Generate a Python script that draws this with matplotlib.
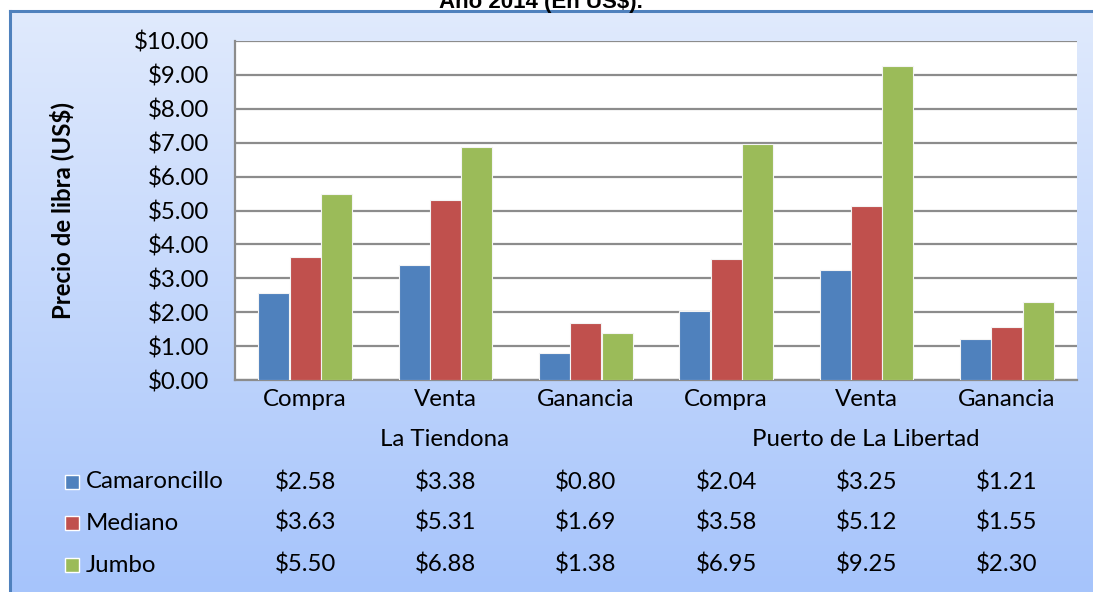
import numpy as np
import matplotlib.pyplot as plt
from matplotlib.transforms import blended_transform_factory
from matplotlib.patches import Rectangle

# Precio por libra de camarón, año 2014
categorias = ["Compra", "Venta", "Ganancia", "Compra", "Venta", "Ganancia"]
mercados = ["La Tiendona", "Puerto de La Libertad"]
series = ["Camaroncillo", "Mediano", "Jumbo"]
camaroncillo = [2.58, 3.38, 0.80, 2.04, 3.25, 1.21]
mediano = [3.63, 5.31, 1.69, 3.58, 5.12, 1.55]
jumbo = [5.50, 6.88, 1.38, 6.95, 9.25, 2.30]
valores = [camaroncillo, mediano, jumbo]
colores = ["#4f81bd", "#c0504d", "#9bbb59"]

plt.rcParams['font.family'] = ['Lato', 'DejaVu Sans']
FS = 17.3

W, H = 1093, 592
fig = plt.figure(figsize=(W / 100, H / 100), dpi=100)
fig.patch.set_facecolor("white")

# fondo degradado del área del gráfico
bg = fig.add_axes([10 / W, 0, 1 - 10 / W, 1 - 11 / H], zorder=0)
grad = np.linspace(0, 1, 256).reshape(-1, 1)
c_top = np.array([0xe0, 0xea, 0xfd]) / 255
c_bot = np.array([0xa6, 0xc4, 0xfb]) / 255
img = c_top + (c_bot - c_top) * grad[:, :, None]
bg.imshow(img, aspect="auto", extent=[0, 1, 0, 1], origin="upper")
bg.set_xlim(0, 1)
bg.set_ylim(0, 1)
bg.axis("off")
fig.add_artist(plt.Line2D([10 / W, 10 / W], [0, 1 - 11 / H], color="#4f81bd", lw=2.2, zorder=1))
fig.add_artist(plt.Line2D([10 / W, 1], [1 - 11 / H, 1 - 11 / H], color="#4f81bd", lw=2.2, zorder=1))

fig.text(541 / W, 1 - 8 / H, "Año 2014 (En US$).", ha="center", va="baseline",
         fontsize=16, fontweight="bold", family="Liberation Sans")

x0, x1, y0, y1 = 235, 1077, 41, 380
ax = fig.add_axes([x0 / W, 1 - y1 / H, (x1 - x0) / W, (y1 - y0) / H], zorder=2)
ax.set_facecolor("white")

x = np.arange(len(categorias))
ancho = 0.22
for i, (vals, col) in enumerate(zip(valores, colores)):
    ax.bar(x + (i - 1) * 0.224, vals, ancho, color=col, edgecolor="#f4f4f4",
           linewidth=0.8, zorder=3)

ax.set_xlim(-0.5, len(categorias) - 0.5)
ax.set_ylim(0, 10)
ax.set_yticks(np.arange(0, 11, 1))
ax.set_yticklabels([f"${v:.2f}" for v in range(0, 11)])
ax.yaxis.grid(True, color="#8c8c8c", linewidth=1.6)
ax.set_axisbelow(True)
ax.tick_params(axis="y", length=0, pad=18.5, labelsize=FS)
ax.set_xticks(x)
ax.set_xticklabels(categorias)
ax.tick_params(axis="x", length=0, pad=6.5, labelsize=FS)
for s in ["top", "right"]:
    ax.spines[s].set_visible(False)
ax.spines["left"].set_color("#8c8c8c")
ax.spines["left"].set_linewidth(1.6)
ax.spines["bottom"].set_color("#8c8c8c")
ax.spines["bottom"].set_linewidth(1.6)

fig.text(62 / W, 1 - 211 / H, "Precio de libra (US$)", rotation=90, ha="center",
         va="center", fontsize=FS, fontweight="bold")

# tabla de datos bajo el eje
tr = blended_transform_factory(ax.transData, fig.transFigure)
fig.text(445 / W, 1 - 440 / H, mercados[0], ha="center", va="center", fontsize=FS)
fig.text(866 / W, 1 - 440 / H, mercados[1], ha="center", va="center", fontsize=FS)
filas_y = [482, 523, 565]
for nombre, vals, col, yp in zip(series, valores, colores, filas_y):
    yf = 1 - yp / H
    fig.add_artist(Rectangle((65 / W, yf - 7 / H), 14 / W, 14 / H, transform=fig.transFigure,
                             facecolor=col, edgecolor="white", lw=1, zorder=3))
    fig.text(86 / W, yf, nombre, ha="left", va="center", fontsize=FS)
    for xi, v in zip(x, vals):
        ax.text(xi, yf, f"${v:.2f}", transform=tr, ha="center", va="center",
                fontsize=FS, clip_on=False)

fig.savefig("out.png", dpi=100)
